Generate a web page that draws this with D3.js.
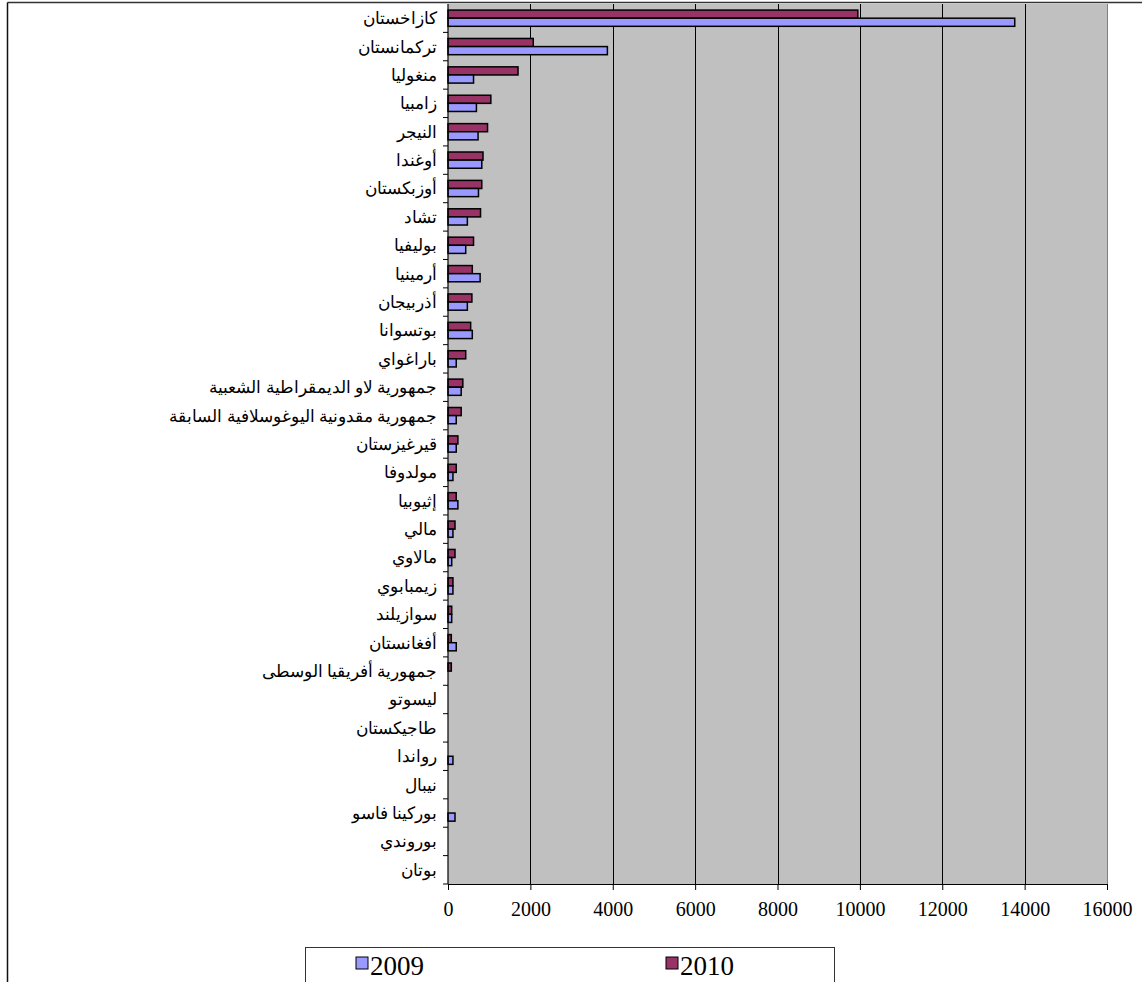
<!DOCTYPE html>
<html>
<head>
<meta charset="utf-8">
<script src="https://cdn.jsdelivr.net/npm/d3@7"></script>
<style>
  html, body { margin: 0; padding: 0; background: #ffffff; }
  svg { display: block; }
</style>
</head>
<body>
<svg id="chart" width="1142" height="982"></svg>
<script>
// Countries, listed top to bottom
const countries = [
  "كازاخستان", "تركمانستان", "منغوليا", "زامبيا", "النيجر", "أوغندا",
  "أوزبكستان", "تشاد", "بوليفيا", "أرمينيا", "أذربيجان", "بوتسوانا",
  "باراغواي", "جمهورية لاو الديمقراطية الشعبية",
  "جمهورية مقدونية اليوغوسلافية السابقة", "قيرغيزستان", "مولدوفا",
  "إثيوبيا", "مالي", "مالاوي", "زيمبابوي", "سوازيلند", "أفغانستان",
  "جمهورية أفريقيا الوسطى", "ليسوتو", "طاجيكستان", "رواندا", "نيبال",
  "بوركينا فاسو", "بوروندي", "بوتان"
];

const values2009 = [
  13760, 3870, 620, 690, 730, 820, 740, 470, 430, 780, 470, 590,
  200, 320, 200, 200, 120, 240, 120, 90, 120, 90, 200,
  0, 0, 0, 120, 0, 170, 0, 0
];

const values2010 = [
  9950, 2070, 1700, 1040, 960, 850, 820, 790, 620, 590, 580, 550,
  430, 360, 320, 240, 200, 200, 170, 170, 120, 90, 80,
  80, 0, 0, 0, 0, 0, 0, 0
];

const seriesNames = ["2009", "2010"];
const seriesColors = ["#9999ff", "#993366"];
const xTicks = [0, 2000, 4000, 6000, 8000, 10000, 12000, 14000, 16000];

const SERIF = "'Liberation Serif', 'Times New Roman', 'DejaVu Serif', serif";

const svg = d3.select("#chart");

// Plot area geometry
const plot = { left: 448, right: 1107, top: 4, bottom: 884 };

const x = d3.scaleLinear().domain([0, 16000]).range([plot.left, plot.right]);
const y = d3.scaleBand().domain(countries).range([plot.top, plot.bottom])
  .paddingInner(0.428).paddingOuter(0.214);
// 2010 drawn above 2009 inside each band
const ySub = d3.scaleBand().domain(["2010", "2009"]).range([0, y.bandwidth()]);

// Outer chart border (top and left edges visible)
svg.append("line").attr("x1", 7.5).attr("x2", 1142).attr("y1", 2.5).attr("y2", 2.5)
  .attr("stroke", "#333").attr("stroke-width", 1.5);
svg.append("line").attr("x1", 7.5).attr("x2", 7.5).attr("y1", 2.5).attr("y2", 982)
  .attr("stroke", "#111").attr("stroke-width", 1.5);

// Plot background
svg.append("rect")
  .attr("x", plot.left).attr("y", plot.top)
  .attr("width", plot.right - plot.left).attr("height", plot.bottom - plot.top)
  .attr("fill", "#c0c0c0");

// Vertical gridlines
svg.append("g").selectAll("line")
  .data(xTicks.slice(1))
  .join("line")
  .attr("x1", d => Math.round(x(d)) + 0.5).attr("x2", d => Math.round(x(d)) + 0.5)
  .attr("y1", plot.top).attr("y2", plot.bottom)
  .attr("stroke", d => d === 16000 ? "#808080" : "#000")
  .attr("stroke-width", 1);

// Bars
const rows = countries.map((c, i) => ({ country: c, v2009: values2009[i], v2010: values2010[i] }));

const barGroup = svg.append("g");
[["2010", "v2010", seriesColors[1]], ["2009", "v2009", seriesColors[0]]].forEach(([key, field, color]) => {
  barGroup.append("g").selectAll("rect")
    .data(rows.filter(r => r[field] > 0))
    .join("rect")
    .attr("x", x(0))
    .attr("y", d => y(d.country) + ySub(key))
    .attr("width", d => x(d[field]) - x(0))
    .attr("height", ySub.bandwidth())
    .attr("fill", color)
    .attr("stroke", "#000")
    .attr("stroke-width", 1.5);
});

// X axis
const xAxis = d3.axisBottom(x).tickValues(xTicks).tickFormat(d3.format("d"))
  .tickSizeInner(6).tickSizeOuter(0).tickPadding(12);
const gx = svg.append("g").attr("transform", `translate(0,${plot.bottom})`).call(xAxis);
gx.select(".domain").attr("stroke", "#000").attr("stroke-width", 1.2);
gx.selectAll(".tick line").attr("stroke", "#000");
gx.selectAll("text").style("font-family", SERIF).style("font-size", "20px").attr("fill", "#000");

// Y axis: ticks at category boundaries, labels centered in bands
const step = y.step();
const boundaries = d3.range(countries.length + 1).map(i => plot.top + i * step);
const gy = svg.append("g");
gy.append("line").attr("x1", plot.left).attr("x2", plot.left)
  .attr("y1", plot.top).attr("y2", plot.bottom)
  .attr("stroke", "#000").attr("stroke-width", 1.2);
gy.selectAll("line.tk").data(boundaries.slice(1)).join("line")
  .attr("class", "tk")
  .attr("x1", plot.left - 5).attr("x2", plot.left)
  .attr("y1", d => d).attr("y2", d => d)
  .attr("stroke", "#000");
gy.selectAll("text").data(countries).join("text")
  .attr("x", plot.left - 11)
  .attr("y", d => y(d) + y.bandwidth() / 2)
  .attr("dy", "0.35em")
  .attr("text-anchor", "end")
  .style("font-family", SERIF)
  .style("font-size", "17px")
  .attr("fill", "#000")
  .text(d => d);

// Legend
const legend = svg.append("g");
legend.append("rect").attr("x", 305.5).attr("y", 947.5).attr("width", 529).attr("height", 60)
  .attr("fill", "#fff").attr("stroke", "#333").attr("stroke-width", 1);
const legendX = [356, 666];
seriesNames.forEach((name, i) => {
  legend.append("rect").attr("x", legendX[i]).attr("y", 957).attr("width", 12).attr("height", 12)
    .attr("fill", seriesColors[i]).attr("stroke", "#000").attr("stroke-width", 1);
  legend.append("text").attr("x", legendX[i] + 14).attr("y", 975)
    .style("font-family", SERIF).style("font-size", "27px").attr("fill", "#000")
    .text(name);
});
</script>
</body>
</html>
